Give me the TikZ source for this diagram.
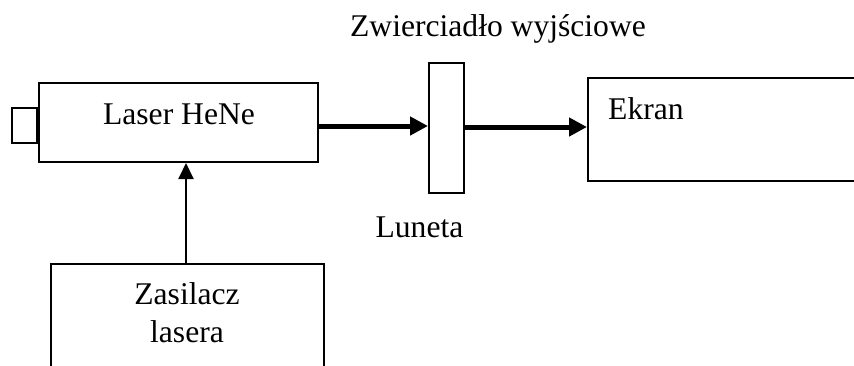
\documentclass[tikz,border=0pt]{standalone}
\usepackage{fontspec}
\setmainfont{Liberation Serif}
\usetikzlibrary{arrows.meta}
\begin{document}
\begin{tikzpicture}[x=1pt,y=1pt,
  box/.style={draw=black,line width=2pt,fill=white,inner sep=0pt,rectangle},
  lbl/.style={inner sep=0pt,font=\fontsize{31.6}{38}\selectfont},
  beam/.style={line width=5pt,-{Triangle[length=18pt,width=18pt]}},
  feed/.style={line width=2pt,-{Triangle[length=16pt,width=15pt]}}]
\useasboundingbox (0,0) rectangle (854,-365);
\clip (0,0) rectangle (854,-365);
% laser head with its rear cap
\node[box,minimum width=279pt,minimum height=79pt] (laser) at (178.5,-122.5) {};
\node[box,minimum width=25pt,minimum height=35pt,anchor=east] (cap) at (laser.west |- 0,-125.5) {};
\node[lbl,anchor=base] (laserlbl) at (179,-124) {Laser HeNe};
% output mirror / telescope element
\node[box,minimum width=35pt,minimum height=130pt] (mirror) at (446.5,-128) {};
\node[lbl,anchor=base] (zw) at (498,-36) {Zwierciadło wyjściowe};
\node[lbl,anchor=base] (lun) at (419.5,-237) {Luneta};
% screen, running off the right edge
\node[box,minimum width=400pt,minimum height=103pt,anchor=west] (ekran) at (587,-129.5) {};
\node[lbl,anchor=base west] (ekranlbl) at (608,-119) {Ekran};
% power supply, running off the bottom edge
\node[box,minimum width=273pt,minimum height=180pt,anchor=north] (zas) at (187.5,-263) {};
\node[lbl,anchor=base] (zaslbl) at (187,-304) {Zasilacz};
\node[lbl,anchor=base] (zaslbl2) at (187,-342) {lasera};
% beam path and supply line
\draw[beam] ([yshift=-3.5pt]laser.east) -- ([yshift=-3.5pt]laser.east -| mirror.west);
\draw[beam] ([yshift=1pt]mirror.east) -- ([yshift=1pt]mirror.east -| ekran.west);
\draw[feed] ([xshift=-1.5pt]zas.north) -- ([xshift=-1.5pt]zas.north |- laser.south);
\end{tikzpicture}
\end{document}
